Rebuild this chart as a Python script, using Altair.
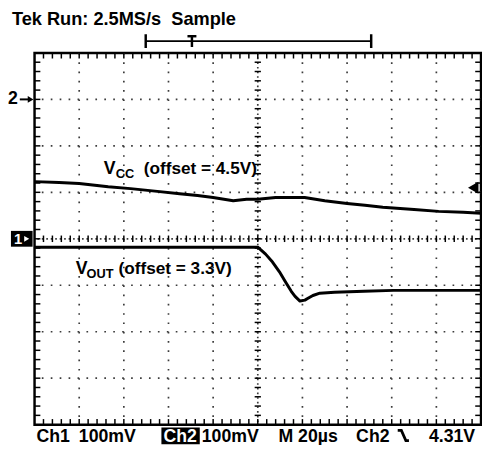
import altair as alt
import pandas as pd

# ---------------- data ----------------
# Ch2 : VCC trace (mV relative to the Ch2 marker), time relative to trigger (us)
vcc_time_us = [-100, -89, -80, -67, -57, -45, -35, -27, -20, -11, -5, 0, 8, 21, 30, 40, 48, 56, 70, 81, 92, 100]
vcc_mv = [-177, -179, -181, -188, -192, -198, -203, -207, -211, -218, -215, -215, -211, -211, -218, -224, -228, -232, -237, -241, -243, -245]

# Ch1 : VOUT trace (mV relative to the Ch1 marker)
vout_time_us = [-100, -49, 0, 3.5, 6.6, 9.7, 12.3, 15, 16.7, 18.9, 21.1, 22.5, 24.7, 27.8, 34.4, 47.6, 60.8, 69.6, 100]
vout_mv = [-18, -18, -18, -33, -50, -71, -92, -113, -124, -134, -132, -128, -122, -117, -115, -113, -111, -111, -111]

ch1_level_div = 4
ch2_level_div = 7
mv_per_div = 100

# graticule
major_t = [-80, -60, -40, -20, 20, 40, 60, 80]
major_div = [1, 2, 3, 5, 6, 7]
minor_t = list(range(-96, 100, 4))
minor_div = [round(0.2 * i, 1) for i in range(1, 40)]

# annotation labels (anchored in time / division units)
label_text = ["V", "CC", "(offset = 4.5V)", "V", "OUT", "(offset = 3.3V)"]
label_t = [-69.0, -63.6, -51.1, -81.5, -76.7, -62.4]
label_div = [5.40, 5.31, 5.40, 3.24, 3.15, 3.24]
label_fs = [18, 13, 17.5, 18, 13, 17.5]

FONT = "Liberation Sans"
NBSP = "\u00a0"
W, H = 454, 378

xs = alt.Scale(domain=[-100, 100], nice=False, zero=False)
ys = alt.Scale(domain=[0, 8], nice=False, zero=False)

traces = pd.concat([
    pd.DataFrame({"t": vcc_time_us, "div": [ch2_level_div + v / mv_per_div for v in vcc_mv], "ch": "VCC"}),
    pd.DataFrame({"t": vout_time_us, "div": [ch1_level_div + v / mv_per_div for v in vout_mv], "ch": "VOUT"}),
])
labels = pd.DataFrame({"text": label_text, "t": label_t, "div": label_div, "fs": label_fs})
one = pd.DataFrame({"k": [0]})


def X(f):
    return alt.X(f, type="quantitative", scale=xs, axis=None)


def Y(f):
    return alt.Y(f, type="quantitative", scale=ys, axis=None)


GRID = "#3c3c3c"

grid_v = alt.Chart(pd.DataFrame({"t": major_t})).mark_rule(
    color=GRID, strokeWidth=1.7, strokeDash=[1.7, 7.75]).encode(x=X("t"))
grid_h = alt.Chart(pd.DataFrame({"d": major_div})).mark_rule(
    color=GRID, strokeWidth=1.7, strokeDash=[1.7, 7.38]).encode(y=Y("d"))
center_v = alt.Chart(one).mark_rule(color=GRID, strokeWidth=1.7, strokeDash=[1.7, 3.03]).encode(
    x=alt.XDatum(0, scale=xs, axis=None))
center_h = alt.Chart(one).mark_rule(color=GRID, strokeWidth=1.7, strokeDash=[1.7, 2.84]).encode(
    y=alt.YDatum(4, scale=ys, axis=None))

TK = dict(color="black", strokeWidth=1.5)
tick_top = alt.Chart(pd.DataFrame({"t": minor_t})).mark_rule(**TK).encode(
    x=X("t"), y=alt.YDatum(8, scale=ys, axis=None), y2=alt.Y2Datum(7.88))
tick_bot = alt.Chart(pd.DataFrame({"t": minor_t})).mark_rule(**TK).encode(
    x=X("t"), y=alt.YDatum(0, scale=ys, axis=None), y2=alt.Y2Datum(0.12))
tick_left = alt.Chart(pd.DataFrame({"d": minor_div})).mark_rule(**TK).encode(
    y=Y("d"), x=alt.XDatum(-100, scale=xs, axis=None), x2=alt.X2Datum(-97.4))
tick_right = alt.Chart(pd.DataFrame({"d": minor_div})).mark_rule(**TK).encode(
    y=Y("d"), x=alt.XDatum(100, scale=xs, axis=None), x2=alt.X2Datum(97.4))
tick_ch = alt.Chart(pd.DataFrame({"t": minor_t})).mark_rule(**TK).encode(
    x=X("t"), y=alt.YDatum(3.93, scale=ys, axis=None), y2=alt.Y2Datum(4.07))
tick_cv = alt.Chart(pd.DataFrame({"d": minor_div})).mark_rule(**TK).encode(
    y=Y("d"), x=alt.XDatum(-1.4, scale=xs, axis=None), x2=alt.X2Datum(1.4))

lines = alt.Chart(traces).mark_line(color="black", strokeWidth=3, strokeJoin="round").encode(
    x=X("t"), y=Y("div"), detail="ch:N", order="t:Q")

label_layer = alt.Chart(labels).mark_text(
    align="left", baseline="alphabetic", font=FONT, fontWeight="bold", color="black").encode(
    x=X("t"), y=Y("div"), text="text:N", size=alt.Size("fs:Q", scale=None))


def ptext(txt, x, y, size=18, color="black", align="left", baseline="alphabetic"):
    return alt.Chart(one).mark_text(
        text=txt, align=align, baseline=baseline, fontSize=size, font=FONT,
        fontWeight="bold", color=color).encode(x=alt.value(x), y=alt.value(y))


def prule(x, x2, y, y2, w=2.5, color="black"):
    return alt.Chart(one).mark_rule(color=color, strokeWidth=w).encode(
        x=x, x2=x2, y=y, y2=y2)


# title
title = ptext("Tek Run: 2.5MS/s" + NBSP + NBSP + "Sample", -23, -28, size=18.5)

# record bracket
br_h = prule(alt.XDatum(-50.2, scale=xs, axis=None), alt.X2Datum(50.8), alt.value(-12), alt.value(-12), w=2)
br_l = prule(alt.XDatum(-50.2, scale=xs, axis=None), alt.X2Datum(-50.2), alt.value(-19), alt.value(-5))
br_r = prule(alt.XDatum(50.8, scale=xs, axis=None), alt.X2Datum(50.8), alt.value(-19), alt.value(-5))
br_t = prule(alt.XDatum(-29.5, scale=xs, axis=None), alt.X2Datum(-29.5), alt.value(-17), alt.value(-6))
br_tt = prule(alt.XDatum(-31.5, scale=xs, axis=None), alt.X2Datum(-27.5), alt.value(-17), alt.value(-17))

# channel markers on the left
m2_text = alt.Chart(one).mark_text(text="2", align="left", baseline="middle", fontSize=18, font=FONT,
                                   fontWeight="bold").encode(x=alt.value(-27), y=alt.YDatum(7, scale=ys, axis=None))
m2_line = alt.Chart(one).mark_rule(color="black", strokeWidth=2).encode(
    x=alt.value(-15), x2=alt.value(-6), y=alt.YDatum(7, scale=ys, axis=None))
m2_tri = alt.Chart(one).mark_point(shape="triangle-right", filled=True, color="black", size=45, opacity=1).encode(
    x=alt.value(-4), y=alt.YDatum(7, scale=ys, axis=None))

m1_box = alt.Chart(one).mark_rect(color="black").encode(
    x=alt.value(-24), x2=alt.value(-2),
    y=alt.YDatum(4.17, scale=ys, axis=None), y2=alt.Y2Datum(3.83))
m1_text = alt.Chart(one).mark_text(text="1", align="left", baseline="middle", fontSize=15, font=FONT,
                                   fontWeight="bold", color="white").encode(
    x=alt.value(-21), y=alt.YDatum(4, scale=ys, axis=None))
m1_tri = alt.Chart(one).mark_point(shape="triangle-right", filled=True, color="white", size=35, opacity=1).encode(
    x=alt.value(-8), y=alt.YDatum(4, scale=ys, axis=None))

# trigger level marker on the right
trig = alt.Chart(one).mark_point(shape="triangle-left", filled=True, color="black", size=150, opacity=1).encode(
    x=alt.XDatum(96.5, scale=xs, axis=None), y=alt.YDatum(5.1, scale=ys, axis=None))

# bottom status line
BY = 396
b1 = ptext("Ch1", 2, BY)
b2 = ptext("100mV", 45, BY)
b3box = alt.Chart(one).mark_rect(color="black").encode(
    x=alt.value(129), x2=alt.value(168), y=alt.value(381), y2=alt.value(398))
b3 = ptext("Ch2", 131, BY, color="white")
b4 = ptext("100mV", 170, BY)
b5 = ptext("M 20µs", 248, BY)
b6 = ptext("Ch2", 327, BY)
edge = alt.Chart(one).mark_point(
    shape="M -1 -0.9 L -0.35 -0.9 L 0.45 0.9 L 1 0.9", filled=False, color="black",
    strokeWidth=2.8, size=130, opacity=1).encode(x=alt.value(375), y=alt.value(389))
b7 = ptext("4.31V", 401, BY)

chart = alt.layer(
    grid_v, grid_h, center_v, center_h,
    tick_top, tick_bot, tick_left, tick_right, tick_ch, tick_cv,
    lines, label_layer,
    title, br_h, br_l, br_r, br_t, br_tt,
    m2_text, m2_line, m2_tri, m1_box, m1_text, m1_tri, trig,
    b1, b2, b3box, b3, b4, b5, b6, edge, b7,
).properties(
    width=W, height=H,
    autosize=alt.AutoSizeParams(type="none"),
    padding={"left": 27, "top": 42, "right": 1, "bottom": 17},
    background="white",
).configure_view(stroke="black", strokeWidth=2.5)

chart.save("out.html", embed_options={"renderer": "svg", "actions": False})
